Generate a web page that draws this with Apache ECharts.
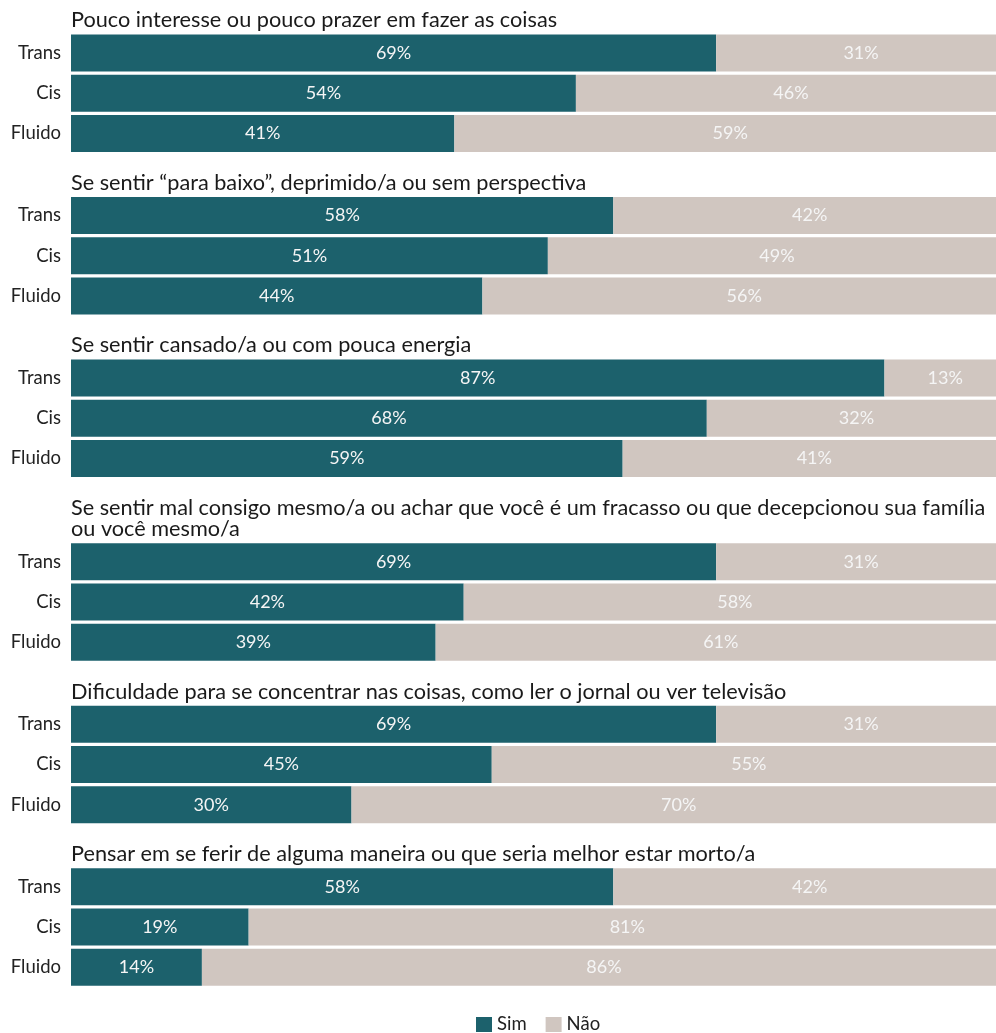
<!DOCTYPE html>
<html>
<head>
<meta charset="utf-8">
<script src="https://cdn.jsdelivr.net/npm/echarts@6/dist/echarts.min.js"></script>
<style>
html,body{margin:0;padding:0;background:#fff;}
#chart{width:996px;height:1033px;}
</style>
</head>
<body>
<div id="chart"></div>
<script>
const categories = ['Trans', 'Cis', 'Fluido'];
const panelTitles = [
  'Pouco interesse ou pouco prazer em fazer as coisas',
  'Se sentir \u201cpara baixo\u201d, deprimido/a ou sem perspectiva',
  'Se sentir cansado/a ou com pouca energia',
  'Se sentir mal consigo mesmo/a ou achar que você é um fracasso ou que decepcionou sua família\nou você mesmo/a',
  'Dificuldade para se concentrar nas coisas, como ler o jornal ou ver televisão',
  'Pensar em se ferir de alguma maneira ou que seria melhor estar morto/a'
];
const simValues = [
  [69, 54, 41],
  [58, 51, 44],
  [87, 68, 59],
  [69, 42, 39],
  [69, 45, 30],
  [58, 19, 14]
];
const naoValues = [
  [31, 46, 59],
  [42, 49, 56],
  [13, 32, 41],
  [31, 58, 61],
  [31, 55, 70],
  [42, 81, 86]
];
const seriesNames = ['Sim', 'Não'];

const barTops = [34.5, 197, 359.5, 543.3, 705.8, 868.3];
const titleLines = [1, 1, 1, 2, 1, 1];
const colors = ['#1c616c', '#d0c6c0'];
const FONT = 'Lato, "Noto Sans", sans-serif';
// full 100% bar is 935px wide, running past the right edge of the 996px canvas
const GRID_LEFT = 71, VISIBLE_W = 996 - 71, FULL_W = 935;
const axisMax = 100 * VISIBLE_W / FULL_W;

const grids = [], xAxes = [], yAxes = [], series = [], titles = [];
barTops.forEach((t, i) => {
  grids.push({ left: GRID_LEFT, right: 0, top: t - 1.6, height: 120.6 });
  xAxes.push({ type: 'value', gridIndex: i, min: 0, max: axisMax, show: false });
  yAxes.push({
    type: 'category', gridIndex: i, data: categories, inverse: true,
    axisLine: { show: false }, axisTick: { show: false }, splitLine: { show: false },
    axisLabel: { fontFamily: FONT, fontSize: 18.5, color: '#222', margin: 10 }
  });
  titles.push({
    text: panelTitles[i], left: 71,
    top: t - 25 - (titleLines[i] - 1) * 21.5,
    padding: 0,
    textStyle: { fontFamily: FONT, fontSize: 21.7, fontWeight: 'normal', color: '#1a1a1a', lineHeight: 21.5 }
  });
  [simValues[i], naoValues[i]].forEach((vals, k) => {
    series.push({
      name: seriesNames[k], type: 'bar', stack: 'p' + i,
      xAxisIndex: i, yAxisIndex: i, data: vals,
      barCategoryGap: '8%', clip: false,
      itemStyle: { color: colors[k] },
      label: {
        show: true, position: 'inside', formatter: '{c}%',
        fontFamily: FONT, fontSize: 18, color: '#f5f5f5'
      },
      emphasis: { disabled: true },
      animation: false
    });
  });
});

const chart = echarts.init(document.getElementById('chart'));
chart.setOption({
  animation: false,
  title: titles,
  grid: grids,
  xAxis: xAxes,
  yAxis: yAxes,
  series: series,
  legend: {
    data: seriesNames, left: 476, top: 1015, padding: 0,
    itemWidth: 16, itemHeight: 15, itemGap: 19,
    icon: 'rect',
    textStyle: { fontFamily: FONT, fontSize: 18.5, color: '#222' }
  }
});
</script>
</body>
</html>
